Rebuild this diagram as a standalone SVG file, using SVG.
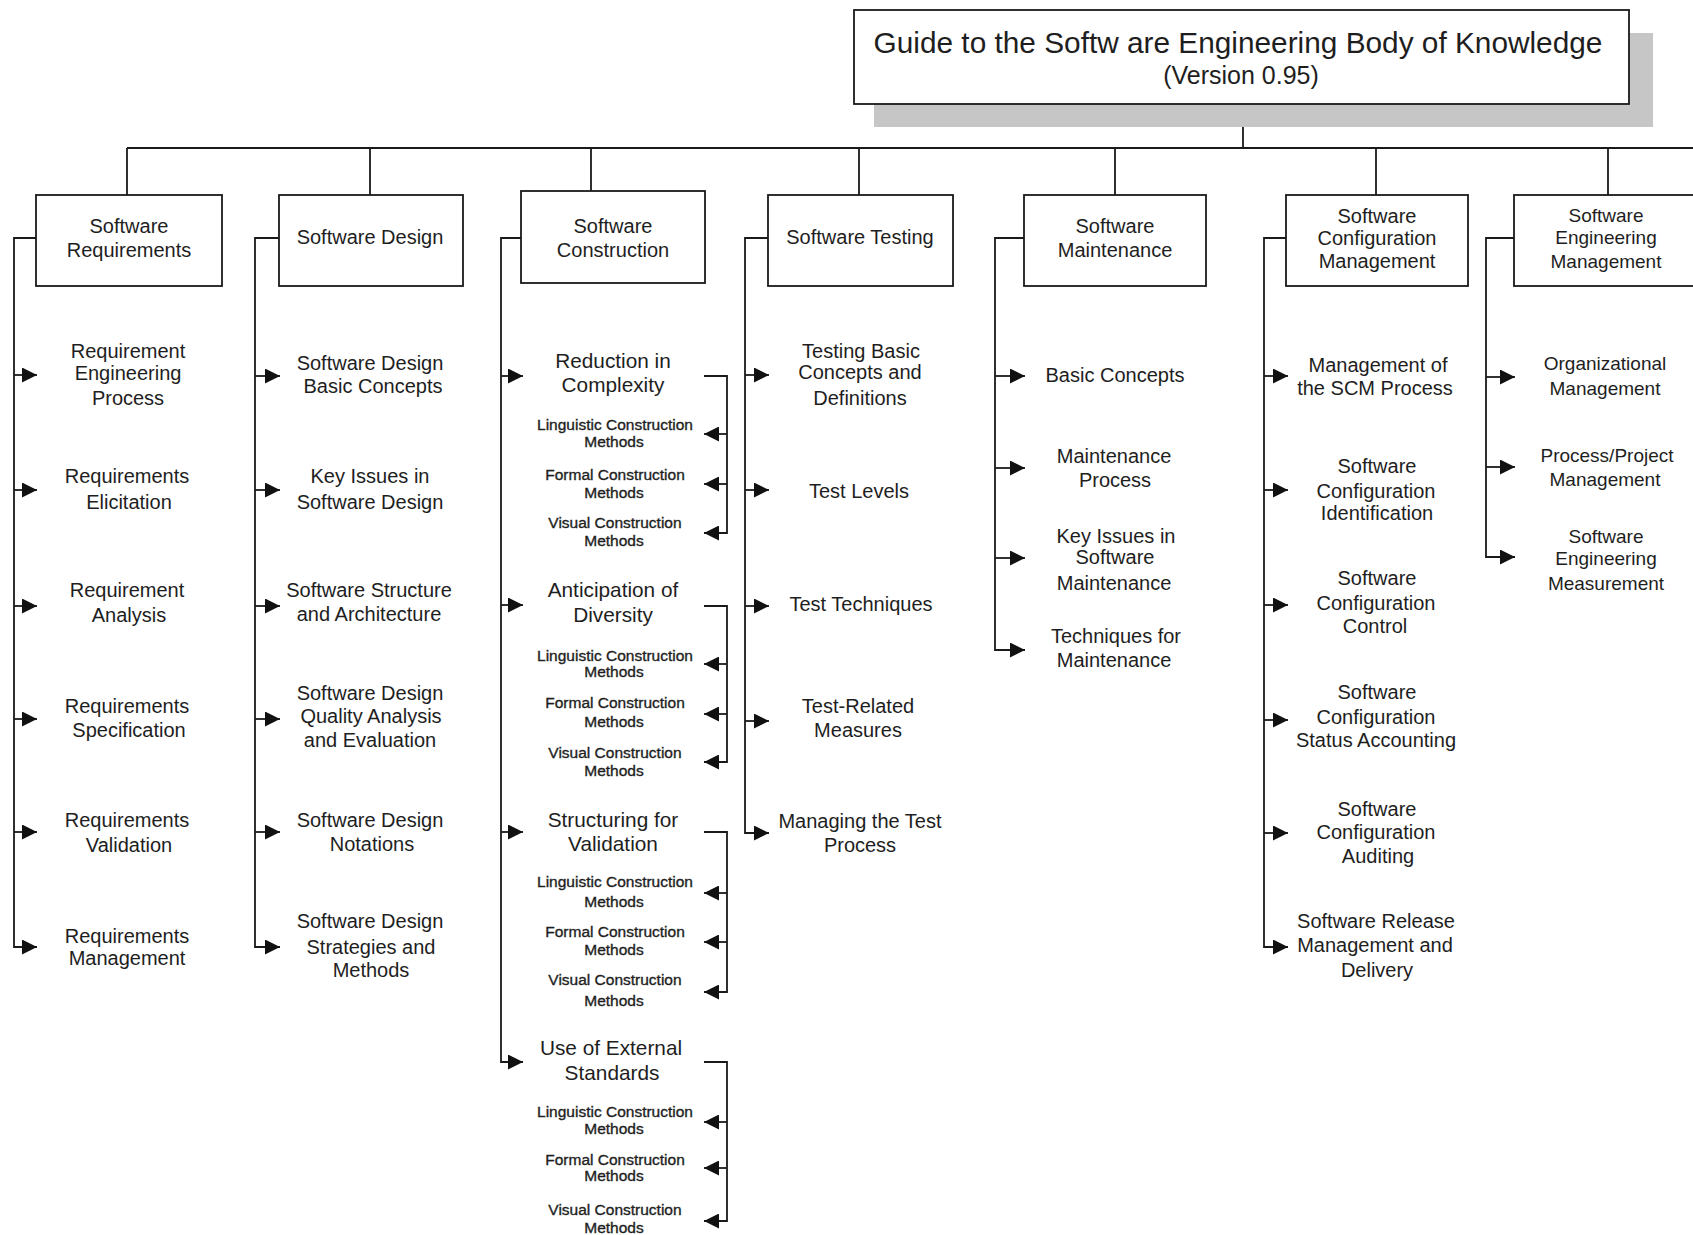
<svg xmlns="http://www.w3.org/2000/svg" width="1693" height="1235" viewBox="0 0 1693 1235">
<style>
text{font-family:"Liberation Sans",Arial,sans-serif;fill:#1e1e1e;text-anchor:middle}
.t{font-size:20px}
.t3{font-size:20.8px}
.t7{font-size:19px}
.s{font-size:15.5px;stroke:#1e1e1e;stroke-width:0.35}
.box{fill:#fff;stroke:#1a1a1a;stroke-width:1.8}
.ln{fill:none;stroke:#1a1a1a;stroke-width:1.8}
.ar{fill:none;stroke:#1a1a1a;stroke-width:1.8;marker-end:url(#ah)}
</style>
<defs>
<marker id="ah" markerUnits="userSpaceOnUse" markerWidth="16" markerHeight="15" refX="15" refY="7.5" orient="auto">
<path d="M0,0 L15,7.5 L0,15 Z" fill="#111"/>
</marker>
</defs>
<rect width="1693" height="1235" fill="#fff"/>

<g id="connectors">
<path class="ln" d="M1243,104 V148"/>
<path class="ln" d="M127,148 H1693"/>
<path class="ln" d="M127,148 V195 M370,148 V195 M591,148 V191 M859,148 V195 M1115,148 V195 M1376,148 V195 M1608,148 V195"/>
<path class="ar" d="M36,238 H14 V947 H37"/>
<path class="ar" d="M14,375 H37"/><path class="ar" d="M14,490 H37"/><path class="ar" d="M14,606 H37"/><path class="ar" d="M14,719 H37"/><path class="ar" d="M14,832 H37"/>
<path class="ar" d="M279,238 H255 V947 H280"/>
<path class="ar" d="M255,376 H280"/><path class="ar" d="M255,490 H280"/><path class="ar" d="M255,606 H280"/><path class="ar" d="M255,719 H280"/><path class="ar" d="M255,832 H280"/>
<path class="ar" d="M521,238 H501 V1062 H523"/>
<path class="ar" d="M501,376 H523"/><path class="ar" d="M501,605 H523"/><path class="ar" d="M501,832 H523"/>
<path class="ar" d="M704,376 H727 V533 H704"/><path class="ar" d="M727,434 H704"/><path class="ar" d="M727,484 H704"/>
<path class="ar" d="M704,606 H727 V762 H704"/><path class="ar" d="M727,664 H704"/><path class="ar" d="M727,714 H704"/>
<path class="ar" d="M704,832 H727 V992 H704"/><path class="ar" d="M727,893 H704"/><path class="ar" d="M727,942 H704"/>
<path class="ar" d="M704,1062 H727 V1221 H704"/><path class="ar" d="M727,1122 H704"/><path class="ar" d="M727,1168 H704"/>
<path class="ar" d="M768,238 H745 V833 H769"/>
<path class="ar" d="M745,375 H769"/><path class="ar" d="M745,490 H769"/><path class="ar" d="M745,606 H769"/><path class="ar" d="M745,721 H769"/>
<path class="ar" d="M1024,238 H995 V650 H1025"/>
<path class="ar" d="M995,376 H1025"/><path class="ar" d="M995,468 H1025"/><path class="ar" d="M995,558 H1025"/>
<path class="ar" d="M1286,238 H1264 V947 H1288"/>
<path class="ar" d="M1264,376 H1288"/><path class="ar" d="M1264,490 H1288"/><path class="ar" d="M1264,605 H1288"/><path class="ar" d="M1264,720 H1288"/><path class="ar" d="M1264,833 H1288"/>
<path class="ar" d="M1514,238 H1486 V557 H1515"/>
<path class="ar" d="M1486,377 H1515"/><path class="ar" d="M1486,467 H1515"/>
</g>

<g id="title">
<rect x="874" y="33" width="779" height="94" fill="#c6c6c6"/>
<rect class="box" x="854" y="10" width="775" height="94"/>
<text x="1238" y="53" style="font-size:29.8px">Guide to the Softw are Engineering Body of Knowledge</text>
<text x="1241" y="84" style="font-size:25px">(Version 0.95)</text>
</g>

<g id="software-requirements">
<rect class="box" x="36" y="195" width="186" height="91"/>
<text class="t" x="129" y="233">Software</text>
<text class="t" x="129" y="257">Requirements</text>
</g>
<g id="requirement-engineering-process"><text class="t" x="128" y="358">Requirement</text><text class="t" x="128" y="380">Engineering</text><text class="t" x="128" y="405">Process</text></g>
<g id="requirements-elicitation"><text class="t" x="127" y="483">Requirements</text><text class="t" x="129" y="509">Elicitation</text></g>
<g id="requirement-analysis"><text class="t" x="127" y="597">Requirement</text><text class="t" x="129" y="622">Analysis</text></g>
<g id="requirements-specification"><text class="t" x="127" y="713">Requirements</text><text class="t" x="129" y="737">Specification</text></g>
<g id="requirements-validation"><text class="t" x="127" y="827">Requirements</text><text class="t" x="129" y="852">Validation</text></g>
<g id="requirements-management"><text class="t" x="127" y="943">Requirements</text><text class="t" x="127" y="965">Management</text></g>

<g id="software-design">
<rect class="box" x="279" y="195" width="184" height="91"/>
<text class="t" x="370" y="244">Software Design</text>
</g>
<g id="design-basic-concepts"><text class="t" x="370" y="370">Software Design</text><text class="t" x="373" y="393">Basic Concepts</text></g>
<g id="design-key-issues"><text class="t" x="370" y="483">Key Issues in</text><text class="t" x="370" y="509">Software Design</text></g>
<g id="design-structure"><text class="t" x="369" y="597">Software Structure</text><text class="t" x="369" y="621">and Architecture</text></g>
<g id="design-quality"><text class="t" x="370" y="700">Software Design</text><text class="t" x="371" y="723">Quality Analysis</text><text class="t" x="370" y="747">and Evaluation</text></g>
<g id="design-notations"><text class="t" x="370" y="827">Software Design</text><text class="t" x="372" y="851">Notations</text></g>
<g id="design-strategies"><text class="t" x="370" y="928">Software Design</text><text class="t" x="371" y="954">Strategies and</text><text class="t" x="371" y="977">Methods</text></g>

<g id="software-construction">
<rect class="box" x="521" y="191" width="184" height="92"/>
<text class="t" x="613" y="233">Software</text>
<text class="t" x="613" y="257">Construction</text>
</g>
<g id="reduction-in-complexity"><text class="t3" x="613" y="368">Reduction in</text><text class="t3" x="613" y="392">Complexity</text></g>
<g id="rc-linguistic"><text class="s" x="615" y="430">Linguistic Construction</text><text class="s" x="614" y="447">Methods</text></g>
<g id="rc-formal"><text class="s" x="615" y="480">Formal Construction</text><text class="s" x="614" y="498">Methods</text></g>
<g id="rc-visual"><text class="s" x="615" y="528">Visual Construction</text><text class="s" x="614" y="546">Methods</text></g>
<g id="anticipation-of-diversity"><text class="t3" x="613" y="597">Anticipation of</text><text class="t3" x="613" y="622">Diversity</text></g>
<g id="ad-linguistic"><text class="s" x="615" y="661">Linguistic Construction</text><text class="s" x="614" y="677">Methods</text></g>
<g id="ad-formal"><text class="s" x="615" y="708">Formal Construction</text><text class="s" x="614" y="727">Methods</text></g>
<g id="ad-visual"><text class="s" x="615" y="758">Visual Construction</text><text class="s" x="614" y="776">Methods</text></g>
<g id="structuring-for-validation"><text class="t3" x="613" y="827">Structuring for</text><text class="t3" x="613" y="851">Validation</text></g>
<g id="sv-linguistic"><text class="s" x="615" y="887">Linguistic Construction</text><text class="s" x="614" y="907">Methods</text></g>
<g id="sv-formal"><text class="s" x="615" y="937">Formal Construction</text><text class="s" x="614" y="955">Methods</text></g>
<g id="sv-visual"><text class="s" x="615" y="985">Visual Construction</text><text class="s" x="614" y="1006">Methods</text></g>
<g id="use-of-external-standards"><text class="t3" x="611" y="1055">Use of External</text><text class="t3" x="612" y="1080">Standards</text></g>
<g id="es-linguistic"><text class="s" x="615" y="1117">Linguistic Construction</text><text class="s" x="614" y="1134">Methods</text></g>
<g id="es-formal"><text class="s" x="615" y="1165">Formal Construction</text><text class="s" x="614" y="1181">Methods</text></g>
<g id="es-visual"><text class="s" x="615" y="1215">Visual Construction</text><text class="s" x="614" y="1233">Methods</text></g>

<g id="software-testing">
<rect class="box" x="768" y="195" width="185" height="91"/>
<text class="t" x="860" y="244">Software Testing</text>
</g>
<g id="testing-basic-concepts"><text class="t" x="861" y="358">Testing Basic</text><text class="t" x="860" y="379">Concepts and</text><text class="t" x="860" y="405">Definitions</text></g>
<g id="test-levels"><text class="t" x="859" y="498">Test Levels</text></g>
<g id="test-techniques"><text class="t" x="861" y="611">Test Techniques</text></g>
<g id="test-related-measures"><text class="t" x="858" y="713">Test-Related</text><text class="t" x="858" y="737">Measures</text></g>
<g id="managing-test-process"><text class="t" x="860" y="828">Managing the Test</text><text class="t" x="860" y="852">Process</text></g>

<g id="software-maintenance">
<rect class="box" x="1024" y="195" width="182" height="91"/>
<text class="t" x="1115" y="233">Software</text>
<text class="t" x="1115" y="257">Maintenance</text>
</g>
<g id="maint-basic-concepts"><text class="t" x="1115" y="382">Basic Concepts</text></g>
<g id="maintenance-process"><text class="t" x="1114" y="463">Maintenance</text><text class="t" x="1115" y="487">Process</text></g>
<g id="maint-key-issues"><text class="t" x="1116" y="543">Key Issues in</text><text class="t" x="1115" y="564">Software</text><text class="t" x="1114" y="590">Maintenance</text></g>
<g id="maint-techniques"><text class="t" x="1116" y="643">Techniques for</text><text class="t" x="1114" y="667">Maintenance</text></g>

<g id="software-configuration-management">
<rect class="box" x="1286" y="195" width="182" height="91"/>
<text class="t" x="1377" y="223">Software</text>
<text class="t" x="1377" y="245">Configuration</text>
<text class="t" x="1377" y="268">Management</text>
</g>
<g id="scm-process"><text class="t" x="1378" y="372">Management of</text><text class="t" x="1375" y="395">the SCM Process</text></g>
<g id="scm-identification"><text class="t" x="1377" y="473">Software</text><text class="t" x="1376" y="498">Configuration</text><text class="t" x="1377" y="520">Identification</text></g>
<g id="scm-control"><text class="t" x="1377" y="585">Software</text><text class="t" x="1376" y="610">Configuration</text><text class="t" x="1375" y="633">Control</text></g>
<g id="scm-status-accounting"><text class="t" x="1377" y="699">Software</text><text class="t" x="1376" y="724">Configuration</text><text class="t" x="1376" y="747">Status Accounting</text></g>
<g id="scm-auditing"><text class="t" x="1377" y="816">Software</text><text class="t" x="1376" y="839">Configuration</text><text class="t" x="1378" y="863">Auditing</text></g>
<g id="scm-release"><text class="t" x="1376" y="928">Software Release</text><text class="t" x="1375" y="952">Management and</text><text class="t" x="1377" y="977">Delivery</text></g>

<g id="software-engineering-management">
<rect class="box" x="1514" y="195" width="200" height="91"/>
<text class="t7" x="1606" y="222">Software</text>
<text class="t7" x="1606" y="244">Engineering</text>
<text class="t7" x="1606" y="268">Management</text>
</g>
<g id="organizational-management"><text class="t7" x="1605" y="370">Organizational</text><text class="t7" x="1605" y="395">Management</text></g>
<g id="process-project-management"><text class="t7" x="1607" y="462">Process/Project</text><text class="t7" x="1605" y="486">Management</text></g>
<g id="se-measurement"><text class="t7" x="1606" y="543">Software</text><text class="t7" x="1606" y="565">Engineering</text><text class="t7" x="1606" y="590">Measurement</text></g>
</svg>
